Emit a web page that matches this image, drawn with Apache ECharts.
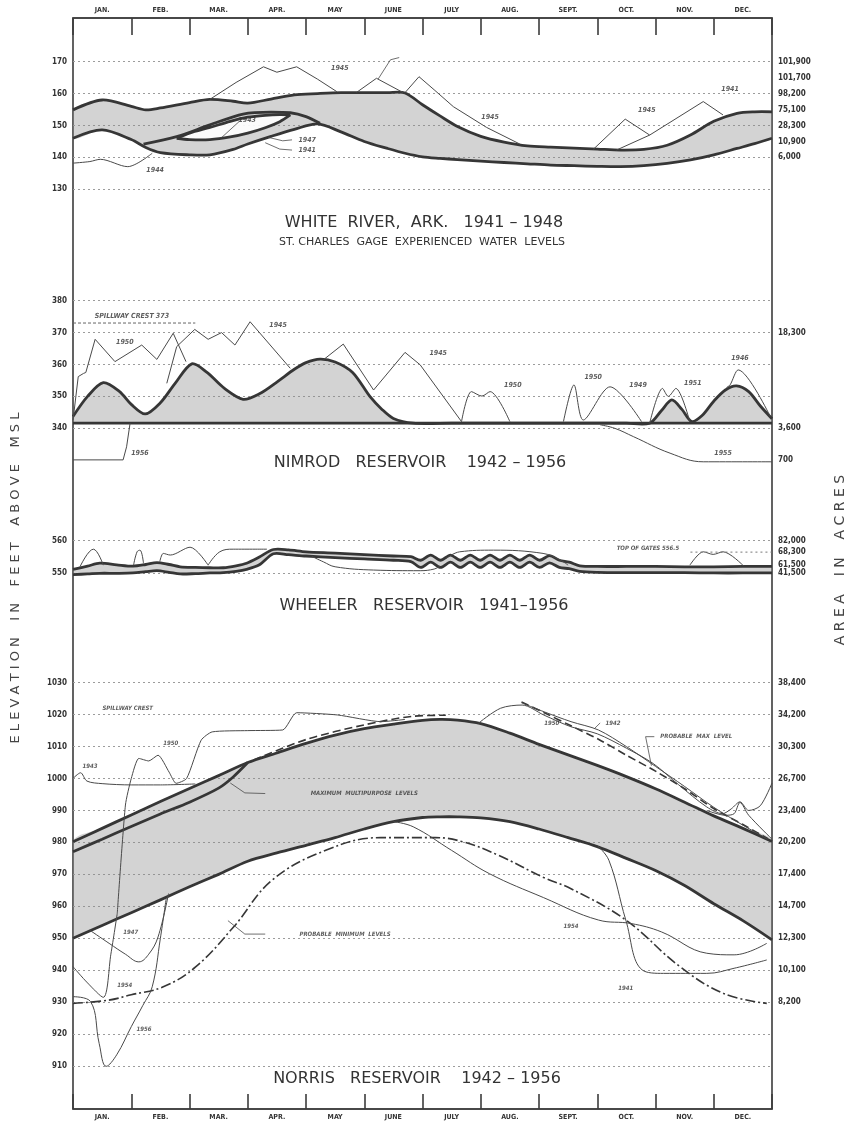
<!DOCTYPE html>
<html>
<head>
<meta charset="utf-8">
<title>Experienced water levels</title>
<script src="https://cdn.jsdelivr.net/npm/echarts@6/dist/echarts.min.js"></script>
<style>
  html, body { margin: 0; padding: 0; background: #fff; }
  #chart { width: 853px; height: 1126px; }
</style>
</head>
<body>
<div id="chart"></div>
<script>
// month axis: 0 = start of January, 12 = end of December
const months = ['JAN.', 'FEB.', 'MAR.', 'APR.', 'MAY', 'JUNE', 'JULY', 'AUG.', 'SEPT.', 'OCT.', 'NOV.', 'DEC.'];

// ---- White River, St. Charles gage ----
const wrMonths = [0, 0.5, 1, 1.25, 1.5, 2, 2.35, 2.75, 3, 3.4, 3.8, 4.2, 4.6, 5, 5.4, 5.7, 6, 6.3, 6.6, 7, 7.4, 7.8, 8.2, 8.6, 9, 9.4, 9.8, 10.2, 10.6, 11, 11.4, 11.7, 12];
const wrHigh = [154.9, 158.0, 156.0, 154.9, 155.5, 157.2, 158.2, 157.6, 157.0, 158.3, 159.6, 160.0, 160.3, 160.3, 160.3, 160.2, 156.5, 153.0, 149.7, 146.6, 144.8, 143.6, 143.2, 142.9, 142.6, 142.3, 142.5, 143.8, 147.0, 151.3, 153.8, 154.3, 154.3];
const wrLow = [146.0, 148.6, 145.6, 143.1, 141.5, 140.8, 140.8, 142.5, 144.2, 146.6, 148.8, 150.5, 148.0, 145.0, 142.8, 141.3, 140.2, 139.7, 139.3, 138.8, 138.4, 138.0, 137.6, 137.4, 137.2, 137.1, 137.4, 138.1, 139.2, 140.8, 142.8, 144.3, 146.0];
const wrInnerMonths = [1.21, 1.78, 2.35, 2.92, 3.4, 3.73, 4.0, 4.24];
const wrInner = [144.2, 146.5, 150.2, 153.6, 154.2, 154.0, 152.8, 150.7];
const wrHoleMonths = [1.78, 2.0, 2.35, 2.7, 3.0, 3.3, 3.55, 3.73];
const wrHoleTop = [146.0, 147.6, 149.4, 151.3, 152.6, 153.2, 153.4, 153.3];
const wrHoleBottom = [146.0, 145.6, 145.6, 146.4, 147.6, 149.3, 151.2, 153.3];
const wr1945aM = [2.35, 2.8, 3.27, 3.5, 3.84, 4.2, 4.53];
const wr1945a = [158.2, 163.5, 168.4, 166.7, 168.4, 164.5, 160.6];
const wr1943M = [4.87, 5.21, 5.67];
const wr1943 = [160.4, 164.8, 160.3];
const wr1945bM = [5.7, 5.94, 6.2, 6.53, 7.1, 7.67];
const wr1945b = [160.3, 165.3, 161.2, 155.9, 149.4, 144.2];
const wr1945cM = [8.93, 9.48, 9.9];
const wr1945c = [142.5, 152.0, 147.0];
const wr1941M = [9.33, 9.9, 10.82, 11.16];
const wr1941 = [142.3, 147.0, 157.5, 153.3];
const wr1944M = [0, 0.29, 0.47, 0.94, 1.36];
const wr1944 = [138.2, 138.7, 139.4, 137.1, 141.3];
const wrAreaLevels = [140, 145, 150, 155, 160, 165, 170];
const wrAreaLabels = ['6,000', '10,900', '28,300', '75,100', '98,200', '101,700', '101,900'];

// ---- Nimrod Reservoir ----
const nmMonths = [0, 0.25, 0.52, 0.8, 1.0, 1.24, 1.5, 1.75, 2.04, 2.3, 2.6, 2.92, 3.2, 3.5, 3.8, 4.0, 4.24, 4.5, 4.8, 5.1, 5.3, 5.5, 5.84, 6.5, 7.5, 8.5, 9.5, 9.9, 10.1, 10.28, 10.45, 10.62, 10.8, 11.0, 11.2, 11.39, 11.6, 11.8, 12];
const nmHigh = [343.7, 350.0, 354.3, 351.5, 347.5, 344.5, 348.0, 354.0, 360.2, 357.5, 352.5, 349.1, 350.8, 354.5, 358.5, 360.6, 361.7, 360.8, 357.5, 349.9, 346.0, 343.1, 341.6, 341.6, 341.6, 341.6, 341.6, 341.6, 345.5, 348.9, 346.0, 342.1, 344.0, 348.5, 352.0, 353.3, 351.5, 347.0, 343.0];
const nmPool = 341.6;
const nmSpillwayCrest = 373;
const nm1950aM = [0, 0.09, 0.18, 0.22, 0.38, 0.72, 1.18, 1.44, 1.72, 1.94];
const nm1950a = [342.5, 356.2, 357.2, 357.5, 367.9, 360.9, 366.1, 361.6, 369.8, 360.9];
const nm1945aM = [1.61, 1.78, 2.09, 2.32, 2.55, 2.78, 3.04, 3.73];
const nm1945a = [354.1, 365.6, 371.0, 367.9, 370.0, 366.1, 373.4, 358.8];
const nm1945bM = [4.3, 4.64, 5.16, 5.7, 5.96, 6.67];
const nm1945b = [361.5, 366.4, 352.0, 363.8, 359.9, 342.1];
const nm1950bM = [6.67, 6.84, 7.02, 7.16, 7.5];
const nm1950b = [342.1, 351.5, 350.1, 351.5, 342.1];
const nm1950cM = [8.42, 8.6, 8.76, 9.22, 9.76];
const nm1950c = [342.1, 353.6, 342.6, 353.0, 342.1];
const nm1951M = [9.9, 10.12, 10.22, 10.35, 10.59];
const nm1951 = [341.6, 352.5, 350.0, 352.5, 342.0];
const nm1946M = [11.22, 11.28, 11.42, 11.97];
const nm1946 = [352.8, 353.6, 358.3, 343.7];
const nm1955M = [9.05, 9.3, 9.62, 10.25, 10.82, 12];
const nm1955 = [341.1, 340.0, 337.4, 332.2, 329.5, 329.5];
const nm1956M = [0, 0.86, 0.92, 0.98];
const nm1956 = [330.1, 330.1, 334.2, 341.6];
const nmAreaLevels = [330, 340, 370];
const nmAreaLabels = ['700', '3,600', '18,300'];

// ---- Wheeler Reservoir ----
const whMonths = [0, 0.25, 0.46, 0.75, 1.03, 1.25, 1.44, 1.65, 1.84, 2.1, 2.35, 2.58, 2.8, 2.98, 3.2, 3.44, 3.7, 4.0, 4.5, 5.0, 5.5, 5.8, 5.97, 6.14, 6.31, 6.48, 6.65, 6.82, 6.99, 7.16, 7.33, 7.5, 7.67, 7.84, 8.01, 8.18, 8.35, 8.52, 8.7, 9.0, 9.5, 10, 10.5, 11, 11.5, 12];
const whHigh = [551.2, 552.2, 553.1, 552.6, 552.2, 552.7, 553.3, 552.7, 552.0, 551.8, 551.7, 551.7, 552.3, 553.1, 555.0, 557.3, 557.2, 556.6, 556.2, 555.7, 555.3, 555.1, 554.0, 555.6, 554.0, 555.6, 554.0, 555.6, 554.0, 555.6, 554.0, 555.6, 554.0, 555.6, 554.0, 555.4, 554.0, 553.4, 552.3, 552.1, 552.1, 552.1, 552.0, 552.0, 552.1, 552.1];
const whLow = [549.6, 549.8, 550.0, 550.0, 550.1, 550.5, 550.8, 550.3, 549.8, 549.9, 550.1, 550.2, 550.6, 551.2, 552.6, 556.0, 555.7, 555.3, 554.8, 554.4, 554.0, 553.6, 551.8, 553.4, 551.8, 553.4, 551.8, 553.4, 551.8, 553.4, 551.8, 553.4, 551.8, 553.4, 551.8, 553.2, 551.8, 551.4, 550.6, 550.3, 550.2, 550.2, 550.2, 550.1, 550.1, 550.1];
const whTopOfGates = 556.5;
const wh1949M = [0.12, 0.35, 0.52];
const wh1949 = [552.0, 557.4, 552.5];
const wh1951M = [1.04, 1.1, 1.15, 1.21];
const wh1951 = [552.5, 556.6, 557.1, 553.1];
const wh1944M = [1.49, 1.55, 1.67, 2.01, 2.32];
const wh1944 = [553.6, 556.1, 555.6, 558.0, 552.5];
const wh1941aM = [2.32, 2.52, 2.75, 3.33];
const wh1941a = [552.5, 556.6, 557.4, 557.4];
const wh1941bM = [4.1, 4.3, 4.5, 5.16, 5.96, 6.2, 6.3];
const wh1941b = [555.2, 553.5, 552.0, 551.0, 550.8, 551.3, 552.2];
const wh1941cM = [6.4, 6.64, 7.22, 8.07, 8.36, 8.5];
const wh1941c = [554.5, 556.6, 557.1, 556.1, 554.1, 552.5];
const wh1948M = [10.59, 10.82, 10.99, 11.16, 11.51];
const wh1948 = [552.5, 556.6, 555.8, 556.6, 552.3];
const whAreaLevels = [550, 552.5, 556.5, 560];
const whAreaLabels = ['41,500', '61,500', '68,300', '82,000'];

// ---- Norris Reservoir ----
const nrMonths = [0, 0.5, 1, 1.5, 2, 2.5, 3, 3.5, 4, 4.5, 5, 5.5, 6, 6.3, 6.6, 7, 7.5, 8, 8.5, 9, 9.5, 10, 10.5, 11, 11.5, 12];
const nrHigh = [980.2, 984.4, 988.6, 992.8, 996.9, 1000.9, 1005.0, 1008.0, 1011.0, 1013.6, 1015.6, 1017.0, 1018.2, 1018.5, 1018.3, 1017.2, 1014.2, 1010.7, 1007.4, 1004.1, 1000.6, 996.8, 992.6, 988.3, 984.4, 980.3];
const nrLow = [950.0, 954.0, 958.0, 962.0, 966.1, 970.0, 974.1, 976.7, 979.1, 981.5, 984.2, 986.5, 987.8, 988.0, 988.0, 987.7, 986.5, 984.2, 981.5, 978.7, 975.0, 971.2, 966.5, 960.8, 955.5, 949.5];
const nrMultiM = [0, 0.5, 1, 1.5, 2, 2.5, 2.75, 3.0];
const nrMulti = [977.1, 981.0, 985.0, 988.9, 992.6, 997.0, 1000.5, 1005.0];
const nrMaxAM = [3.1, 4, 5, 5.84, 6.4];
const nrMaxA = [1005.8, 1012.2, 1016.8, 1019.5, 1019.8];
const nrMaxBM = [7.7, 8.1, 8.55, 9.02, 9.5, 10, 10.5, 11, 11.5, 11.93];
const nrMaxB = [1024.0, 1020.5, 1016.5, 1012.3, 1007.3, 1002.3, 996.8, 990.6, 985.6, 981.2];
const nrMinM = [0, 0.61, 1.0, 1.55, 2.11, 2.76, 3.42, 4.35, 5.28, 6.22, 6.69, 7.3, 8.08, 8.55, 9.49, 10.42, 11.17, 11.91];
const nrMin = [929.6, 930.6, 932.3, 934.8, 941.1, 953.6, 968.2, 977.6, 981.5, 981.5, 980.2, 976.0, 969.0, 965.5, 955.7, 941.1, 932.7, 929.6];
const nr1942M = [7.7, 8.1, 8.55, 9.02, 9.5, 10, 10.5, 11, 11.5, 11.93];
const nr1942 = [1023.7, 1020.8, 1017.8, 1015.2, 1010.0, 1003.8, 997.5, 991.0, 985.4, 981.0];
const nr1950rM = [6.96, 7.34, 7.71, 8.08, 8.55, 9.0, 9.5, 9.96, 10.4, 10.88, 11.15, 11.3, 11.45, 11.6, 11.8, 12];
const nr1950r = [1017.3, 1022.0, 1023.0, 1019.9, 1016.2, 1014.0, 1009.5, 1004.7, 998.0, 991.1, 989.0, 990.5, 992.7, 990.0, 991.5, 998.6];
const nrOtherM = [10.88, 11.2, 11.35, 11.45, 11.6, 12];
const nrOther = [990.0, 988.5, 989.0, 992.5, 988.5, 981.0];
const nr1943M = [0, 0.13, 0.24, 0.5, 1.0, 1.5, 2.1];
const nr1943 = [1000.0, 1001.8, 999.2, 998.4, 998.0, 998.0, 998.3];
const nr1954lM = [0, 0.25, 0.52, 0.65, 0.76];
const nr1954l = [941.1, 936.0, 931.5, 945.0, 957.8];
const nr1950lM = [0.76, 0.9, 1.0, 1.13, 1.3, 1.46, 1.65, 1.77, 1.95, 2.2, 2.39, 3.0, 3.6, 3.84, 4.54, 5.29, 5.7];
const nr1950l = [957.8, 991.7, 1000.0, 1006.3, 1005.5, 1007.3, 1002.0, 998.5, 1000.0, 1012.0, 1014.6, 1015.0, 1015.2, 1020.6, 1019.9, 1017.8, 1018.5];
const nr1956M = [0, 0.3, 0.45, 0.57, 0.75, 1.0, 1.2, 1.36, 1.5, 1.6];
const nr1956 = [931.7, 930.2, 917.0, 909.9, 913.5, 922.3, 929.0, 934.8, 950.0, 962.5];
const nr1947M = [0.29, 0.62, 0.9, 1.13, 1.3, 1.46, 1.64];
const nr1947 = [952.5, 948.4, 945.0, 942.6, 945.0, 950.4, 964.0];
const nr1954rM = [5.5, 5.84, 6.5, 7.15, 8.08, 9.02, 9.58, 10.1, 10.88, 11.35, 11.91];
const nr1954r = [986.5, 984.9, 977.5, 970.2, 962.7, 955.7, 954.6, 952.0, 945.3, 944.8, 948.4];
const nr1941M = [9.0, 9.2, 9.49, 9.77, 10.14, 10.88, 11.35, 11.91];
const nr1941 = [979.0, 974.4, 955.7, 940.1, 939.0, 939.0, 940.6, 943.2];
const nrAreaLevels = [930, 940, 950, 960, 970, 980, 990, 1000, 1010, 1020, 1030];
const nrAreaLabels = ['8,200', '10,100', '12,300', '14,700', '17,400', '20,200', '23,400', '26,700', '30,300', '34,200', '38,400'];

// ---- annotations (month, elevation) ----
const wrNotes = [
  { text: '1943', at: [5.82, 171.6] }, { text: '1945', at: [4.58, 168.0] },
  { text: '1943', at: [2.99, 151.8] }, { text: '1947', at: [4.02, 145.5] },
  { text: '1941', at: [4.02, 142.3] }, { text: '1944', at: [1.41, 136.0] },
  { text: '1945', at: [7.16, 152.7] }, { text: '1945', at: [9.85, 154.9] },
  { text: '1941', at: [11.28, 161.4] }
];
const wrLeaders = [
  [[5.24, 164.6], [5.45, 170.6], [5.6, 171.3]],
  [[2.55, 146.2], [2.85, 151.2]],
  [[3.35, 146.3], [3.6, 145.2], [3.76, 145.5]],
  [[3.3, 144.6], [3.55, 142.6], [3.76, 142.3]]
];
const nmNotes = [
  { text: 'SPILLWAY CREST 373', at: [1.01, 375.2] }, { text: '1950', at: [0.89, 367.1] },
  { text: '1945', at: [3.52, 372.4] }, { text: '1945', at: [6.27, 363.6] },
  { text: '1956', at: [1.15, 332.3] }, { text: '1950', at: [7.55, 353.6] },
  { text: '1950', at: [8.93, 356.1] }, { text: '1949', at: [9.7, 353.6] },
  { text: '1951', at: [10.64, 354.2] }, { text: '1946', at: [11.45, 362.0] },
  { text: '1955', at: [11.16, 332.3] }
];
const whNotes = [
  { text: '1949', at: [0.43, 564.1] }, { text: '1951', at: [1.09, 562.8] },
  { text: '1944', at: [2.18, 563.8] }, { text: '1941', at: [3.09, 565.3] },
  { text: '1941', at: [7.7, 562.3] }, { text: '1941', at: [5.49, 547.0] },
  { text: '1948', at: [11.14, 562.3] }, { text: 'TOP OF GATES 556.5', at: [9.87, 557.7] }
];
const nrNotes = [
  { text: 'TOP SPILLWAY GATES', at: [1.03, 1031.9] }, { text: 'SPILLWAY CREST', at: [0.94, 1022.0] },
  { text: '1943', at: [0.29, 1003.7] }, { text: '1950', at: [1.68, 1011.1] },
  { text: 'MAXIMUM  MULTIPURPOSE  LEVELS', at: [5.0, 995.3] }, { text: '1950', at: [8.22, 1017.4] },
  { text: '1942', at: [9.27, 1017.4] }, { text: 'PROBABLE  MAX  LEVEL', at: [10.7, 1013.1] },
  { text: '1947', at: [0.99, 951.7] }, { text: '1954', at: [0.89, 935.3] },
  { text: '1956', at: [1.22, 921.3] }, { text: 'PROBABLE  MINIMUM  LEVELS', at: [4.67, 951.2] },
  { text: '1954', at: [8.55, 953.6] }, { text: '1941', at: [9.49, 934.3] }
];
const nrLeaders = [
  [[2.7, 998.6], [2.95, 995.5], [3.3, 995.3]],
  [[2.66, 955.5], [2.95, 951.3], [3.3, 951.3]],
  [[9.93, 1004.0], [9.83, 1013.1], [9.98, 1013.1]],
  [[8.95, 1015.6], [9.05, 1017.4]]
];

// ---- drawing ----
const INK = '#363636';
const THIN = '#4a4a4a';
const FILL = 'rgba(140,140,140,0.38)';
const GRIDLINE = { color: '#9c9c9c', width: 1, type: [2, 3] };
const NARROW = 'DejaVu Sans Condensed, DejaVu Sans, Liberation Sans, sans-serif';
const PLAIN = 'DejaVu Sans, Liberation Sans, sans-serif';
const SMOOTH = 0.3;

const pts = (xs, ys) => xs.map((x, i) => [x, ys[i]]);

function line(ax, xs, ys, style, smooth) {
  return {
    type: 'line', xAxisIndex: ax[0], yAxisIndex: ax[1], data: pts(xs, ys),
    symbol: 'none', smooth: smooth || false, clip: false, silent: true, z: 5,
    lineStyle: Object.assign({ color: THIN, width: 1 }, style)
  };
}
function thick(ax, xs, ys, smooth) {
  return line(ax, xs, ys, { color: INK, width: 2.8 }, smooth === undefined ? SMOOTH : smooth);
}
// shaded range between two traced curves, drawn through the axes' own scales
function band(ax, xs, lo, hi, fill) {
  return {
    type: 'custom', xAxisIndex: ax[0], yAxisIndex: ax[1], silent: true, z: 4,
    data: [[xs[0], lo[0]]],
    renderItem: function (params, api) {
      const top = xs.map((x, i) => api.coord([x, hi[i]]));
      const bot = xs.map((x, i) => api.coord([x, lo[i]]));
      const box = [top[0], top[0]];
      const edge = { stroke: INK, lineWidth: 2.8, fill: null, lineJoin: 'round' };
      return {
        type: 'group',
        children: [
          { type: 'polygon', shape: { points: top.concat(bot.slice().reverse()), smooth: SMOOTH, smoothConstraint: box },
            style: { fill: fill } },
          { type: 'polyline', shape: { points: top, smooth: SMOOTH }, style: edge },
          { type: 'polyline', shape: { points: bot, smooth: SMOOTH }, style: edge }
        ]
      };
    }
  };
}
function notes(ax, list, size) {
  return {
    type: 'scatter', xAxisIndex: ax[0], yAxisIndex: ax[1], symbolSize: 1, silent: true, z: 6,
    itemStyle: { color: 'rgba(0,0,0,0)' },
    label: { show: true, position: 'inside', formatter: '{b}', color: '#333', fontSize: size || 7,
      fontStyle: 'italic', fontWeight: 'bold', fontFamily: NARROW },
    data: list.map(n => ({ name: n.text, value: n.at }))
  };
}
function leaders(ax, list) {
  return list.map(seg => ({
    type: 'line', xAxisIndex: ax[0], yAxisIndex: ax[1], data: seg, symbol: 'none', clip: false,
    silent: true, z: 5, lineStyle: { color: THIN, width: 0.8 }
  }));
}
function leftAxis(grid, min, max, hideMin) {
  return {
    type: 'value', gridIndex: grid, min: min, max: max, interval: 10,
    axisLine: { show: false }, axisTick: { show: false },
    axisLabel: { fontSize: 8, fontWeight: 'bold', color: '#333', margin: 6, fontFamily: NARROW,
      formatter: v => (hideMin && v === min) ? '' : v },
    splitLine: { show: true, showMinLine: !hideMin, lineStyle: GRIDLINE }
  };
}
function rightAxis(grid, min, max, levels, labels) {
  return {
    type: 'value', gridIndex: grid, position: 'right', min: min, max: max,
    axisLine: { show: false }, axisTick: { show: false }, splitLine: { show: false },
    axisLabel: { customValues: levels, fontSize: 8, fontWeight: 'bold', color: '#333', margin: 6,
      fontFamily: NARROW, formatter: v => labels[levels.indexOf(v)] || '' }
  };
}
function monthAxis(pos, tickLen, margin) {
  return {
    type: 'category', gridIndex: 0, position: pos, data: months, boundaryGap: true,
    axisLine: { show: true, onZero: false, lineStyle: { color: '#3c3c3c', width: 1.6 } },
    axisTick: { show: true, inside: true, length: tickLen, lineStyle: { color: '#3c3c3c', width: 1.6 } },
    axisLabel: { interval: 0, margin: margin, fontSize: 7, fontWeight: 'bold', color: '#333', fontFamily: NARROW },
    splitLine: { show: false }
  };
}

const WR = [2, 1], NM = [3, 3], WH = [4, 5], NR = [5, 7];
const dashMin = { type: [10, 3, 2, 3], width: 1.6, color: INK };
const dashMax = { type: [8, 4], width: 1.6, color: INK };

const series = [].concat(
  // White River
  [band(WR, wrMonths, wrLow, wrHigh, FILL),
   band(WR, wrHoleMonths, wrHoleBottom, wrHoleTop, 'rgba(255,255,255,0.9)'),
   thick(WR, wrInnerMonths, wrInner)],
  [line(WR, wr1945aM, wr1945a), line(WR, wr1943M, wr1943), line(WR, wr1945bM, wr1945b),
   line(WR, wr1945cM, wr1945c), line(WR, wr1941M, wr1941), line(WR, wr1944M, wr1944, {}, 0.3)],
  leaders(WR, wrLeaders),
  [notes(WR, wrNotes)],
  // Nimrod
  [band(NM, nmMonths, nmMonths.map(() => nmPool), nmHigh, FILL)],
  [line(NM, nm1950aM, nm1950a), line(NM, nm1945aM, nm1945a), line(NM, nm1945bM, nm1945b),
   line(NM, nm1950bM, nm1950b, {}, 0.3), line(NM, nm1950cM, nm1950c, {}, 0.3), line(NM, nm1951M, nm1951, {}, 0.3),
   line(NM, nm1946M, nm1946, {}, 0.3), line(NM, nm1955M, nm1955, {}, 0.4), line(NM, nm1956M, nm1956),
   line(NM, [0, 2.1], [nmSpillwayCrest, nmSpillwayCrest], { type: [3, 2], color: '#666' })],
  [notes(NM, nmNotes)],
  // Wheeler
  [band(WH, whMonths, whLow, whHigh, FILL)],
  [line(WH, wh1949M, wh1949, {}, 0.4), line(WH, wh1951M, wh1951, {}, 0.4), line(WH, wh1944M, wh1944, {}, 0.3),
   line(WH, wh1941aM, wh1941a, {}, 0.4), line(WH, wh1941bM, wh1941b, {}, 0.4), line(WH, wh1941cM, wh1941c, {}, 0.4),
   line(WH, wh1948M, wh1948, {}, 0.3),
   line(WH, [10.6, 12], [whTopOfGates, whTopOfGates], { type: [2, 3], color: '#777' })],
  [notes(WH, whNotes, 6)],
  // Norris
  [band(NR, nrMonths, nrLow, nrHigh, FILL)],
  [thick(NR, nrMultiM, nrMulti),
   line(NR, nrMaxAM, nrMaxA, dashMax, 0.3), line(NR, nrMaxBM, nrMaxB, dashMax, 0.3),
   line(NR, nrMinM, nrMin, dashMin, 0.4),
   line(NR, nr1942M, nr1942, {}, 0.3), line(NR, nr1950rM, nr1950r, {}, 0.3), line(NR, nrOtherM, nrOther, {}, 0.3),
   line(NR, nr1943M, nr1943, {}, 0.3), line(NR, nr1954lM, nr1954l, {}, 0.3), line(NR, nr1950lM, nr1950l, {}, 0.2),
   line(NR, nr1956M, nr1956, {}, 0.4), line(NR, nr1947M, nr1947, {}, 0.4),
   line(NR, nr1954rM, nr1954r, {}, 0.4), line(NR, nr1941M, nr1941, {}, 0.4)],
  leaders(NR, nrLeaders),
  [notes(NR, nrNotes, 6)]
);

const titleFont = '16px ' + PLAIN;
function caption(text, x, y, font) {
  return { type: 'text', x: x, y: y, silent: true, z: 10,
    style: { text: text, fill: '#333', font: font || titleFont, align: 'center', verticalAlign: 'middle' } };
}

const option = {
  backgroundColor: '#fff',
  animation: false,
  grid: [
    { left: 73, top: 18, width: 699, height: 1091, show: true, borderColor: '#3c3c3c', borderWidth: 1.6, backgroundColor: 'transparent' },
    { left: 73, top: 61.7, width: 699, height: 127.6 },
    { left: 73, top: 300.7, width: 699, height: 159.5 },
    { left: 73, top: 540.7, width: 699, height: 32.6 },
    { left: 73, top: 682.7, width: 699, height: 383.3 }
  ],
  xAxis: [
    monthAxis('top', 17, 4),
    monthAxis('bottom', 15, 5),
    { type: 'value', gridIndex: 1, min: 0, max: 12, show: false },
    { type: 'value', gridIndex: 2, min: 0, max: 12, show: false },
    { type: 'value', gridIndex: 3, min: 0, max: 12, show: false },
    { type: 'value', gridIndex: 4, min: 0, max: 12, show: false }
  ],
  yAxis: [
    { type: 'value', gridIndex: 0, min: 0, max: 1, show: false },
    leftAxis(1, 130, 170, false),
    rightAxis(1, 130, 170, wrAreaLevels, wrAreaLabels),
    leftAxis(2, 330, 380, true),
    rightAxis(2, 330, 380, nmAreaLevels, nmAreaLabels),
    leftAxis(3, 550, 560, false),
    rightAxis(3, 550, 560, whAreaLevels, whAreaLabels),
    leftAxis(4, 910, 1030, false),
    rightAxis(4, 910, 1030, nrAreaLevels, nrAreaLabels)
  ],
  graphic: [
    caption('WHITE  RIVER,  ARK.   1941 – 1948', 424, 223),
    caption('ST. CHARLES  GAGE  EXPERIENCED  WATER  LEVELS', 422, 242, '11px ' + PLAIN),
    caption('NIMROD   RESERVOIR    1942 – 1956', 420, 463),
    caption('WHEELER   RESERVOIR   1941–1956', 424, 606),
    caption('NORRIS   RESERVOIR    1942 – 1956', 417, 1079),
    { type: 'text', x: 16, y: 578, rotation: Math.PI / 2, silent: true,
      style: { text: 'E L E V A T I O N    I N    F E E T    A B O V E    M S L', fill: '#444',
        font: '13px ' + PLAIN, align: 'center', verticalAlign: 'middle' } },
    { type: 'text', x: 840, y: 560, rotation: Math.PI / 2, silent: true,
      style: { text: 'A R E A    I N    A C R E S', fill: '#444',
        font: '14px ' + PLAIN, align: 'center', verticalAlign: 'middle' } }
  ],
  series: series
};

const chart = echarts.init(document.getElementById('chart'));
chart.setOption(option);
</script>
</body>
</html>
